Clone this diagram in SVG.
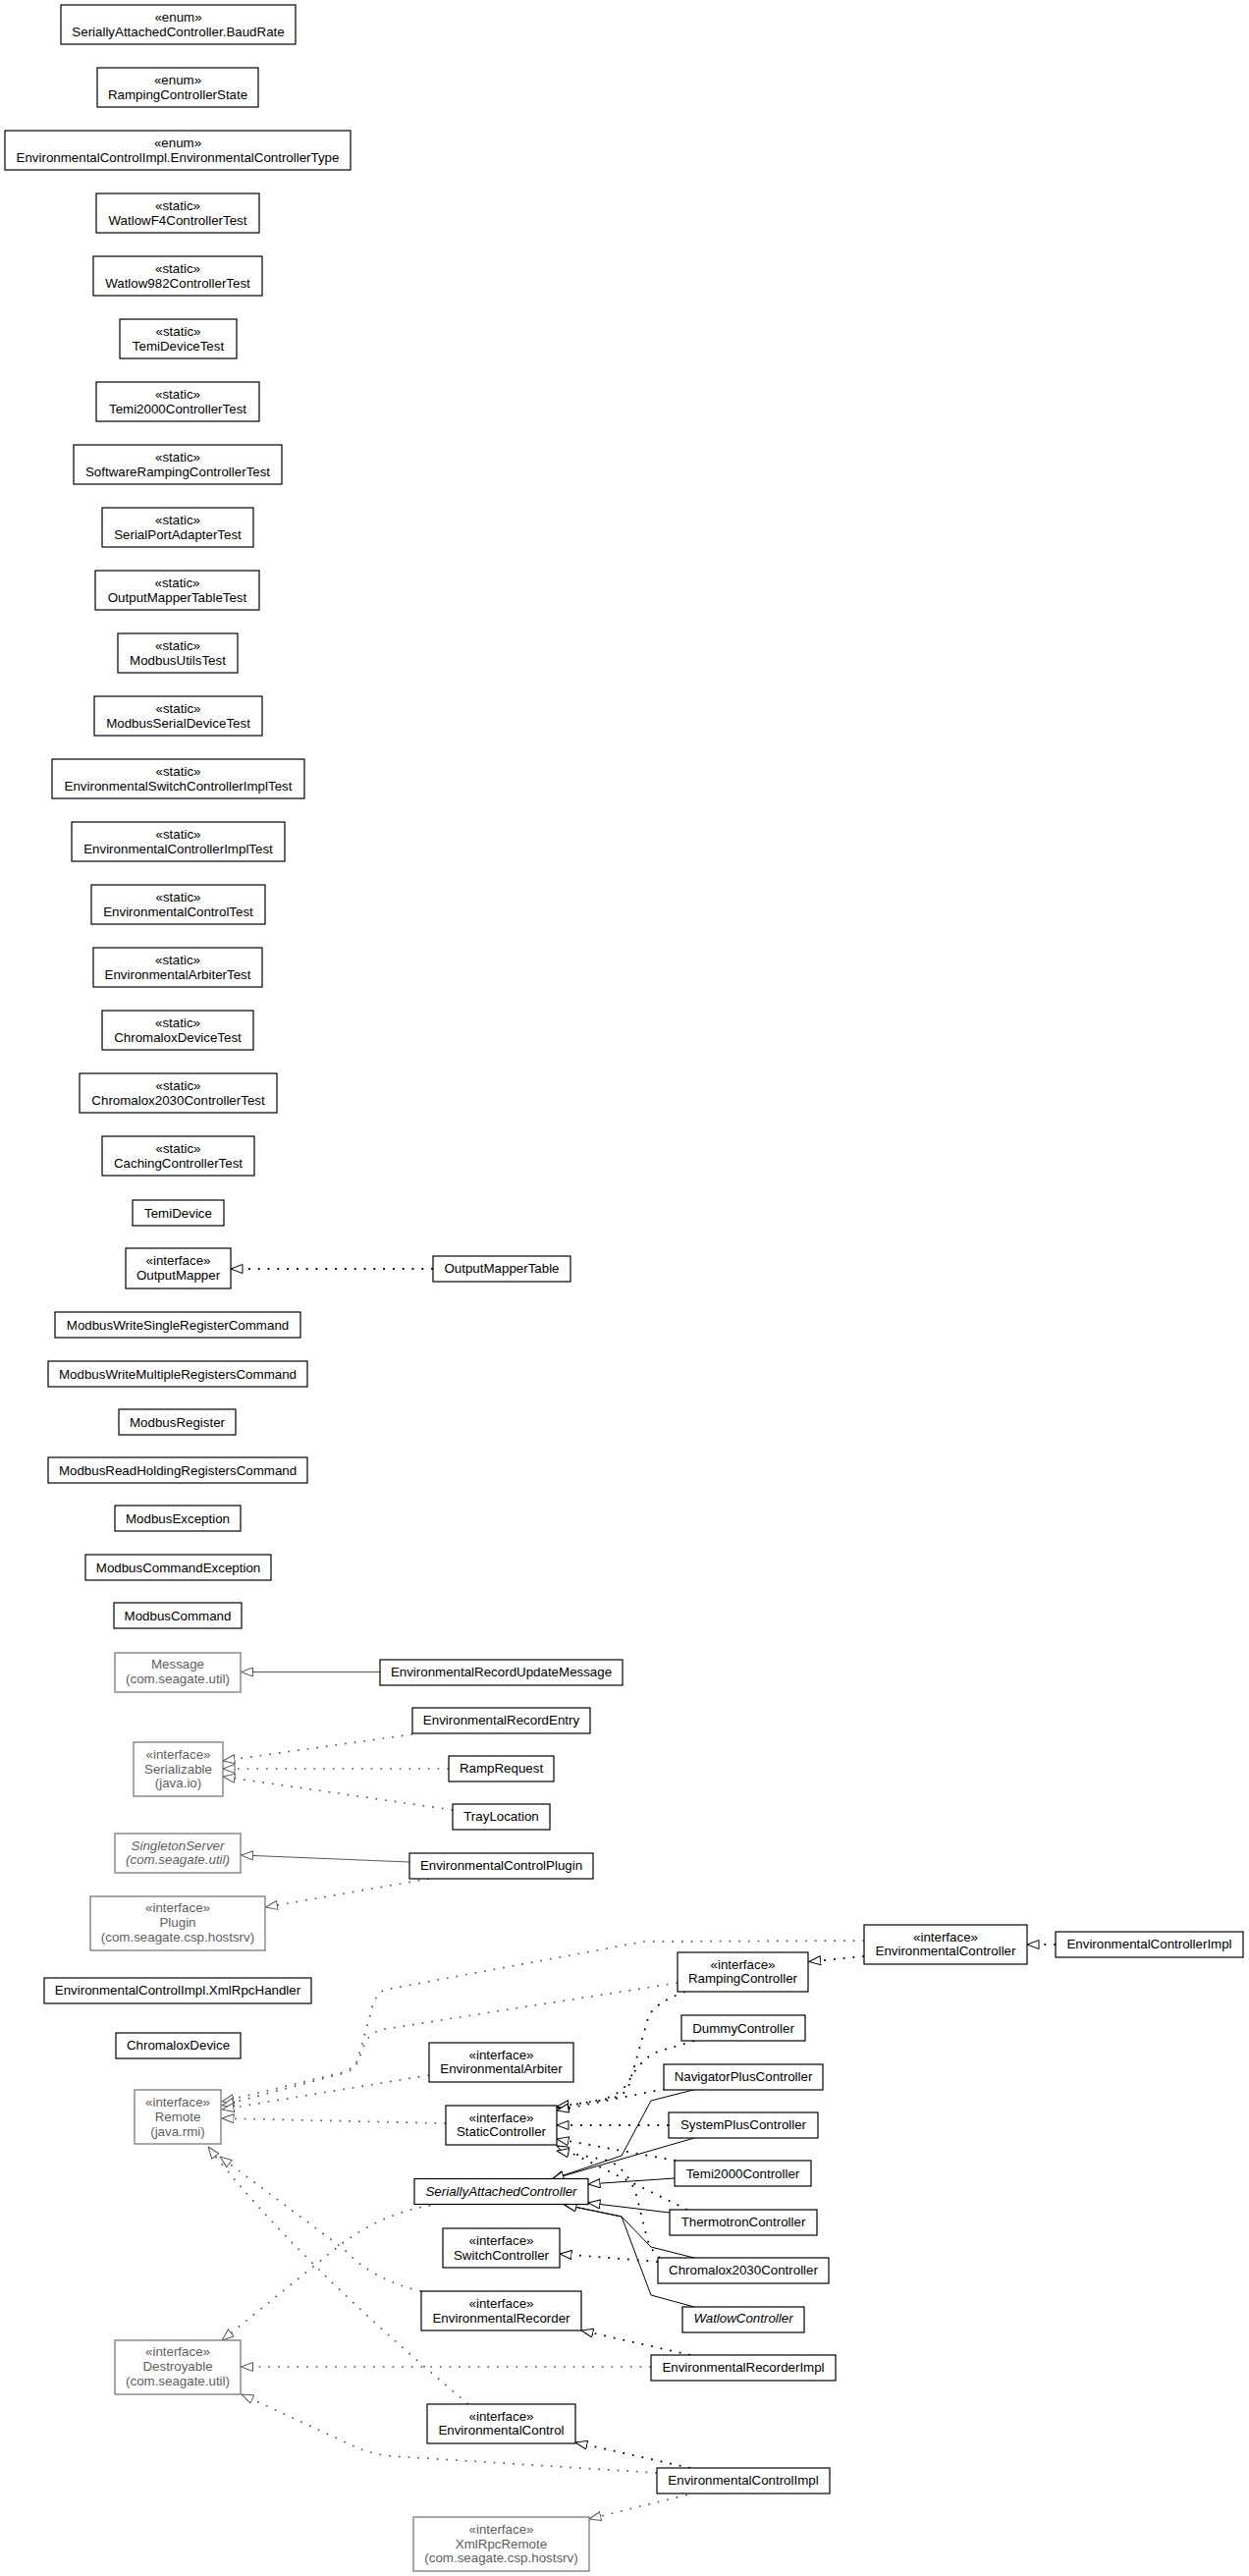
<svg xmlns="http://www.w3.org/2000/svg" width="1272" height="2623" viewBox="0 0 1272 2623">
<style>
rect{fill:#fff;stroke:#000;stroke-width:1.2}
.g rect{stroke:#6e6e6e}
text{font-family:"Liberation Sans",Arial,sans-serif;font-size:13.33px;text-anchor:middle;fill:#000}
.g text{fill:#5e5e5e}
.i{font-style:italic}
#connectors path{fill:none}
.s{stroke:#000;stroke-width:1}
.d{stroke:#000;stroke-width:1.8;stroke-dasharray:1.8 8}
.gs{stroke:#555;stroke-width:1}
.gd{stroke:#5a5a5a;stroke-width:1.7;stroke-dasharray:1.7 8}
.s,.d{marker-end:url(#ab)}
.gs,.gd{marker-end:url(#ag)}
</style>
<defs>
<marker id="ab" markerUnits="userSpaceOnUse" markerWidth="13" markerHeight="10" viewBox="0 0 13 10" refX="12.5" refY="5" orient="auto"><path d="M0.5,0.5 L12.5,5 L0.5,9.5 z" fill="#fff" stroke="#000" stroke-width="1" stroke-dasharray="none"/></marker>
<marker id="ag" markerUnits="userSpaceOnUse" markerWidth="13" markerHeight="10" viewBox="0 0 13 10" refX="12.5" refY="5" orient="auto"><path d="M0.5,0.5 L12.5,5 L0.5,9.5 z" fill="#fff" stroke="#555" stroke-width="1" stroke-dasharray="none"/></marker>
</defs>
<rect x="0" y="0" width="1272" height="2623" style="fill:#fff;stroke:none"/>
<g id="connectors">
<path class="d" d="M441,1292 L235,1292"/>
<path class="gs" d="M387,1702.5 L245.5,1702.5"/>
<path class="gd" d="M420,1766 L227,1793"/>
<path class="gd" d="M457,1801 L227,1801"/>
<path class="gd" d="M461,1843 L227,1809"/>
<path class="gs" d="M417,1896 L245.5,1889"/>
<path class="gd" d="M437,1913 L270.5,1942"/>
<path class="d" d="M1075,1980 L1046,1980"/>
<path class="d" d="M880,1992 L823.7,1997.5"/>
<path class="gd" d="M880,1976 L656,1977 L392,2026 Q382,2030 378,2048 L364,2098 Q360,2106 350,2110 L226,2140"/>
<path class="gd" d="M690,2019 L392,2066 Q375,2069 370,2085 L364,2100 Q360,2108 350,2111 L226,2144"/>
<path class="gd" d="M437,2113 L226,2148"/>
<path class="gd" d="M454,2162 L226,2157"/>
<path class="gd" d="M477,2448 Q300,2300 212,2186"/>
<path class="gd" d="M429,2333 Q380,2322 350,2290 L224,2196"/>
<path class="gd" d="M448,2244 Q390,2252 345,2287 L226,2383"/>
<path class="gd" d="M663,2410 L245.5,2410"/>
<path class="gd" d="M669,2518 L400,2501 Q380,2499 365,2493 L246,2438"/>
<path class="d" d="M703,2398 L592,2373"/>
<path class="d" d="M703,2513 L586,2487"/>
<path class="gd" d="M709,2538 L600,2565"/>
<path class="d" d="M670,2303 L570,2295"/>
<path class="d" d="M698,2028 Q665,2040 660,2055 L640,2125 Q636,2133 625,2136 L567,2146"/>
<path class="d" d="M707,2078 L667,2090 Q650,2100 640,2120 Q632,2133 610,2139 L567,2145"/>
<path class="d" d="M677,2127 L567,2149"/>
<path class="d" d="M681,2164 L567,2164"/>
<path class="d" d="M688,2200 L567,2178"/>
<path class="d" d="M700,2250 L567,2185"/>
<path class="d" d="M672,2299 Q661,2290 658,2275 L648,2235 Q640,2210 620,2200 L567,2190"/>
<path class="s" d="M710,2127 L663,2139 L633,2195 L562,2219"/>
<path class="s" d="M707,2177 L562,2219"/>
<path class="s" d="M687,2218 L599,2224"/>
<path class="s" d="M682,2253 L599,2243"/>
<path class="s" d="M707,2299 L663,2288 L633,2257 L575,2245"/>
<path class="s" d="M707,2349 L663,2337 L633,2257 L575,2245"/>
</g>
<g id="n1"><rect x="62" y="5" width="239" height="40"/><text x="181.5" y="21.5">«enum»</text><text x="181.5" y="36.5">SeriallyAttachedController.BaudRate</text></g>
<g id="n2"><rect x="99" y="69" width="164" height="40"/><text x="181" y="85.5">«enum»</text><text x="181" y="100.5">RampingControllerState</text></g>
<g id="n3"><rect x="5" y="133" width="352" height="40"/><text x="181" y="149.5">«enum»</text><text x="181" y="164.5">EnvironmentalControlImpl.EnvironmentalControllerType</text></g>
<g id="n4"><rect x="98" y="197" width="166" height="40"/><text x="181" y="213.5">«static»</text><text x="181" y="228.5">WatlowF4ControllerTest</text></g>
<g id="n5"><rect x="95" y="261" width="172" height="40"/><text x="181" y="277.5">«static»</text><text x="181" y="292.5">Watlow982ControllerTest</text></g>
<g id="n6"><rect x="122" y="325" width="119" height="40"/><text x="181.5" y="341.5">«static»</text><text x="181.5" y="356.5">TemiDeviceTest</text></g>
<g id="n7"><rect x="98" y="389" width="166" height="40"/><text x="181" y="405.5">«static»</text><text x="181" y="420.5">Temi2000ControllerTest</text></g>
<g id="n8"><rect x="75" y="453" width="212" height="40"/><text x="181" y="469.5">«static»</text><text x="181" y="484.5">SoftwareRampingControllerTest</text></g>
<g id="n9"><rect x="104" y="517" width="154" height="40"/><text x="181" y="533.5">«static»</text><text x="181" y="548.5">SerialPortAdapterTest</text></g>
<g id="n10"><rect x="97" y="581" width="167" height="40"/><text x="180.5" y="597.5">«static»</text><text x="180.5" y="612.5">OutputMapperTableTest</text></g>
<g id="n11"><rect x="120" y="645" width="122" height="40"/><text x="181" y="661.5">«static»</text><text x="181" y="676.5">ModbusUtilsTest</text></g>
<g id="n12"><rect x="96" y="709" width="171" height="40"/><text x="181.5" y="725.5">«static»</text><text x="181.5" y="740.5">ModbusSerialDeviceTest</text></g>
<g id="n13"><rect x="53" y="773" width="257" height="40"/><text x="181.5" y="789.5">«static»</text><text x="181.5" y="804.5">EnvironmentalSwitchControllerImplTest</text></g>
<g id="n14"><rect x="73" y="837" width="217" height="40"/><text x="181.5" y="853.5">«static»</text><text x="181.5" y="868.5">EnvironmentalControllerImplTest</text></g>
<g id="n15"><rect x="93" y="901" width="177" height="40"/><text x="181.5" y="917.5">«static»</text><text x="181.5" y="932.5">EnvironmentalControlTest</text></g>
<g id="n16"><rect x="95" y="965" width="172" height="40"/><text x="181" y="981.5">«static»</text><text x="181" y="996.5">EnvironmentalArbiterTest</text></g>
<g id="n17"><rect x="104" y="1029" width="154" height="40"/><text x="181" y="1045.5">«static»</text><text x="181" y="1060.5">ChromaloxDeviceTest</text></g>
<g id="n18"><rect x="81" y="1093" width="201" height="40"/><text x="181.5" y="1109.5">«static»</text><text x="181.5" y="1124.5">Chromalox2030ControllerTest</text></g>
<g id="n19"><rect x="104" y="1157" width="155" height="40"/><text x="181.5" y="1173.5">«static»</text><text x="181.5" y="1188.5">CachingControllerTest</text></g>
<g id="n20"><rect x="135" y="1222" width="93" height="26"/><text x="181.5" y="1239.5">TemiDevice</text></g>
<g id="n21"><rect x="128" y="1271" width="107" height="41"/><text x="181.5" y="1288">«interface»</text><text x="181.5" y="1303">OutputMapper</text></g>
<g id="n22"><rect x="56" y="1336" width="250" height="26"/><text x="181" y="1353.5">ModbusWriteSingleRegisterCommand</text></g>
<g id="n23"><rect x="49" y="1386" width="264" height="26"/><text x="181" y="1403.5">ModbusWriteMultipleRegistersCommand</text></g>
<g id="n24"><rect x="121" y="1435" width="119" height="26"/><text x="180.5" y="1452.5">ModbusRegister</text></g>
<g id="n25"><rect x="49" y="1484" width="264" height="26"/><text x="181" y="1501.5">ModbusReadHoldingRegistersCommand</text></g>
<g id="n26"><rect x="117" y="1533" width="128" height="26"/><text x="181" y="1550.5">ModbusException</text></g>
<g id="n27"><rect x="87" y="1583" width="189" height="26"/><text x="181.5" y="1600.5">ModbusCommandException</text></g>
<g id="n28"><rect x="116" y="1632" width="130" height="26"/><text x="181" y="1649.5">ModbusCommand</text></g>
<g id="n29" class="g"><rect x="117" y="1683" width="128" height="40"/><text x="181" y="1699">Message</text><text x="181" y="1714">(com.seagate.util)</text></g>
<g id="n30" class="g"><rect x="136" y="1774" width="91" height="55"/><text x="181.5" y="1790.5">«interface»</text><text x="181.5" y="1805.5">Serializable</text><text x="181.5" y="1820">(java.io)</text></g>
<g id="n31" class="g"><rect x="117" y="1867" width="128" height="40"/><text class="i" x="181" y="1883.5">SingletonServer</text><text class="i" x="181" y="1897.5">(com.seagate.util)</text></g>
<g id="n32" class="g"><rect x="92" y="1931" width="178" height="55"/><text x="181" y="1947">«interface»</text><text x="181" y="1962">Plugin</text><text x="181" y="1977">(com.seagate.csp.hostsrv)</text></g>
<g id="n33"><rect x="45" y="2014" width="272" height="26"/><text x="181" y="2031">EnvironmentalControlImpl.XmlRpcHandler</text></g>
<g id="n34"><rect x="118" y="2070" width="127" height="26"/><text x="181.5" y="2087">ChromaloxDevice</text></g>
<g id="n35" class="g"><rect x="137" y="2128" width="88" height="55"/><text x="181" y="2145">«interface»</text><text x="181" y="2159.5">Remote</text><text x="181" y="2174.5">(java.rmi)</text></g>
<g id="n36" class="g"><rect x="117" y="2383" width="128" height="55"/><text x="181" y="2399">«interface»</text><text x="181" y="2414">Destroyable</text><text x="181" y="2429">(com.seagate.util)</text></g>
<g id="n37"><rect x="441" y="1279" width="140" height="26"/><text x="511" y="1296">OutputMapperTable</text></g>
<g id="n38"><rect x="387" y="1690" width="247" height="26"/><text x="510.5" y="1707">EnvironmentalRecordUpdateMessage</text></g>
<g id="n39"><rect x="420" y="1739" width="181" height="26"/><text x="510.5" y="1756">EnvironmentalRecordEntry</text></g>
<g id="n40"><rect x="457" y="1788" width="107" height="26"/><text x="510.5" y="1805">RampRequest</text></g>
<g id="n41"><rect x="461" y="1837" width="99" height="26"/><text x="510.5" y="1854">TrayLocation</text></g>
<g id="n42"><rect x="417" y="1887" width="187" height="26"/><text x="510.5" y="1904">EnvironmentalControlPlugin</text></g>
<g id="n43"><rect x="437" y="2080" width="147" height="40"/><text x="510.5" y="2096.5">«interface»</text><text x="510.5" y="2111">EnvironmentalArbiter</text></g>
<g id="n44"><rect x="454" y="2144" width="113" height="40"/><text x="510.5" y="2160.5">«interface»</text><text x="510.5" y="2175">StaticController</text></g>
<g id="n45"><rect x="422" y="2218.5" width="177" height="26"/><text class="i" x="510.5" y="2235.5">SeriallyAttachedController</text></g>
<g id="n46"><rect x="451" y="2269" width="119" height="40"/><text x="510.5" y="2285.5">«interface»</text><text x="510.5" y="2300.5">SwitchController</text></g>
<g id="n47"><rect x="429" y="2333" width="163" height="40"/><text x="510.5" y="2349.5">«interface»</text><text x="510.5" y="2364.5">EnvironmentalRecorder</text></g>
<g id="n48"><rect x="435" y="2448" width="151" height="40"/><text x="510.5" y="2464.5">«interface»</text><text x="510.5" y="2479">EnvironmentalControl</text></g>
<g id="n49" class="g"><rect x="421" y="2563" width="179" height="55"/><text x="510.5" y="2579.5">«interface»</text><text x="510.5" y="2594.5">XmlRpcRemote</text><text x="510.5" y="2609">(com.seagate.csp.hostsrv)</text></g>
<g id="n50"><rect x="690" y="1988" width="133" height="40"/><text x="756.5" y="2004.5">«interface»</text><text x="756.5" y="2019">RampingController</text></g>
<g id="n51"><rect x="694" y="2052" width="126" height="26"/><text x="757" y="2069.5">DummyController</text></g>
<g id="n52"><rect x="676" y="2102" width="162" height="26"/><text x="757" y="2118.5">NavigatorPlusController</text></g>
<g id="n53"><rect x="681" y="2151" width="152" height="26"/><text x="757" y="2167.5">SystemPlusController</text></g>
<g id="n54"><rect x="687" y="2200" width="139" height="26"/><text x="756.5" y="2217.5">Temi2000Controller</text></g>
<g id="n55"><rect x="682" y="2250" width="150" height="26"/><text x="757" y="2266.5">ThermotronController</text></g>
<g id="n56"><rect x="670" y="2299" width="174" height="26"/><text x="757" y="2315.5">Chromalox2030Controller</text></g>
<g id="n57"><rect x="695" y="2349" width="124" height="26"/><text class="i" x="757" y="2365">WatlowController</text></g>
<g id="n58"><rect x="663" y="2398" width="188" height="26"/><text x="757" y="2414.5">EnvironmentalRecorderImpl</text></g>
<g id="n59"><rect x="669" y="2513" width="176" height="26"/><text x="757" y="2529.5">EnvironmentalControlImpl</text></g>
<g id="n60"><rect x="880" y="1960" width="166" height="40"/><text x="963" y="1976.5">«interface»</text><text x="963" y="1991">EnvironmentalController</text></g>
<g id="n61"><rect x="1075" y="1967" width="191" height="26"/><text x="1170.5" y="1984">EnvironmentalControllerImpl</text></g>
</svg>
